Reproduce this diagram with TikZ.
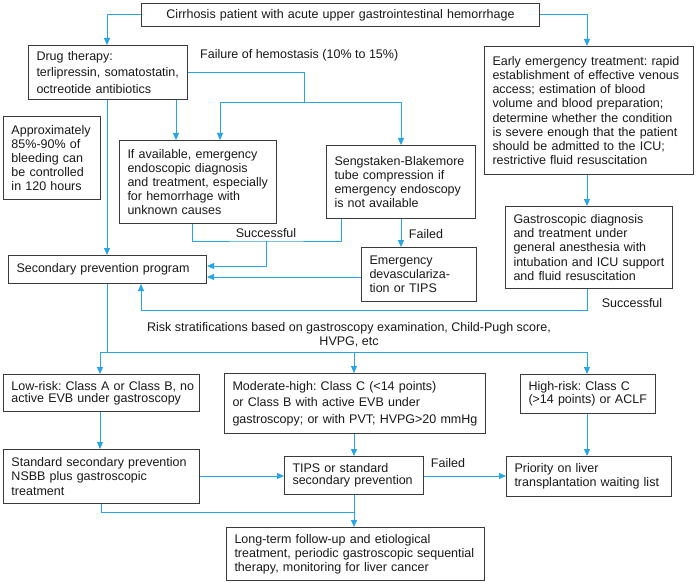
\documentclass[tikz,border=0pt]{standalone}
\usepackage{fontspec}
\setmainfont{Liberation Sans}
\frenchspacing
\usetikzlibrary{arrows.meta}
\definecolor{linkblue}{RGB}{38,166,230}
\definecolor{boxgray}{RGB}{58,58,58}
\tikzset{
  box/.style={draw=boxgray, line width=1pt, inner xsep=8pt, align=left, text=black!90, lsp=14.2,
    execute at begin node={\lineskiplimit=-20pt}},
  lsp/.style={font=\fontsize{12.5}{#1}\selectfont},
  conn/.style={draw=linkblue, line width=1pt},
  arr/.style={conn, -{Triangle[length=7pt,width=6pt]}},
  lbl/.style={inner sep=0pt, font=\fontsize{12.5}{14.2}\selectfont, text=black!90}
}
\newcommand{\lw}[1]{\mbox{#1}}
\newcommand{\mybox}[7][]{%
  \pgfmathsetmacro\bw{#5-#3}\pgfmathsetmacro\bh{#6-#4}\pgfmathsetmacro\tw{#5-#3-16}%
  \node[box,minimum width=\bw pt,minimum height=\bh pt,text width=\tw pt,anchor=north west,#1] (#2) at (#3,#4) {#7};}
\begin{document}
\begin{tikzpicture}[x=1pt,y=-1pt]
\useasboundingbox[fill=white] (0,0) rectangle (696,583);
% boxes
\mybox[align=center]{top}{141}{3}{539}{26}{\lw{Cirrhosis patient with acute upper gastrointestinal hemorrhage}}
\mybox[lsp=16.2]{drug}{28}{45}{187}{99}{\lw{Drug therapy:}\\\lw{terlipressin, somatostatin,}\\\lw{octreotide antibiotics}}
\mybox{early}{484}{46}{693}{174}{\lw{Early emergency treatment: rapid}\\\lw{establishment of effective venous}\\\lw{access; estimation of blood}\\\lw{volume and blood preparation;}\\\lw{determine whether the condition}\\\lw{is severe enough that the patient}\\\lw{should be admitted to the ICU;}\\\lw{restrictive fluid resuscitation}}
\mybox{approx}{3}{116}{100}{199}{\lw{Approximately}\\\lw{85\%-90\% of}\\\lw{bleeding can}\\\lw{be controlled}\\\lw{in 120 hours}}
\mybox{endo}{119}{140}{276}{223}{\lw{If available, emergency}\\\lw{endoscopic diagnosis}\\\lw{and treatment, especially}\\\lw{for hemorrhage with}\\\lw{unknown causes}}
\mybox{seng}{326}{145}{475}{218}{\lw{Sengstaken-Blakemore}\\\lw{tube compression if}\\\lw{emergency endoscopy}\\\lw{is not available}}
\mybox{sec}{8}{255}{206}{283}{\lw{Secondary prevention program}}
\mybox{emerg}{361}{247}{476}{301}{\lw{Emergency}\\\lw{devasculariza-}\\\lw{tion or TIPS}}
\mybox{gastro}{505}{206}{672}{288}{\lw{Gastroscopic diagnosis}\\\lw{and treatment under}\\\lw{general anesthesia with}\\\lw{intubation and ICU support}\\\lw{and fluid resuscitation}}
\mybox[lsp=11.8]{low}{3}{374}{199}{411}{\lw{Low-risk: Class A or Class B, no}\\\lw{active EVB under gastroscopy}}
\mybox[lsp=16.6]{mod}{224}{373}{485}{433}{\lw{Moderate-high: Class C (<14 points)}\\\lw{or Class B with active EVB under}\\\lw{gastroscopy; or with PVT; HVPG>20 mmHg}}
\mybox[lsp=13.4]{high}{520}{374}{655}{413}{\lw{High-risk: Class C}\\\lw{(>14 points) or ACLF}}
\mybox{std}{3}{449}{199}{503}{\lw{Standard secondary prevention}\\\lw{NSBB plus gastroscopic}\\\lw{treatment}}
\mybox[lsp=11.8]{tips}{284}{456}{423}{494}{\lw{TIPS or standard}\\\lw{secondary prevention}}
\mybox{prio}{506}{456}{671}{496}{\lw{Priority on liver}\\\lw{transplantation waiting list}}
\mybox{long}{226}{527}{484}{580}{\lw{Long-term follow-up and etiological}\\\lw{treatment, periodic gastroscopic sequential}\\\lw{therapy, monitoring for liver cancer}}
% labels
\node[lbl,anchor=west] (lfail) at (200,55) {Failure of hemostasis (10\% to 15\%)};
\node[lbl] (lsucc1) at (266,233) {Successful};
\node[lbl] (lfailed1) at (426,234) {Failed};
\node[lbl] (lsucc2) at (632,303) {Successful};
\node[lbl,align=center] (lrisk) at (349,335) {Risk stratifications based on gastroscopy examination, Child-Pugh score,\\HVPG, etc};
\node[lbl] (lfailed2) at (448,463) {Failed};
% junctions
\coordinate (j1) at (304,103);
\coordinate (j2) at (266,241);
\coordinate (j3) at (107,352);
\coordinate (j3l) at (100,352);
\coordinate (j3m) at (354,352);
\coordinate (j3r) at (587,352);
\coordinate (j4) at (354,512);
\coordinate (j5) at (587,310);
% connectors
\draw[arr] (top.west) -| (drug.north -| 107,0);
\draw[arr] (top.east) -| (early.north -| 587,0);
\draw[conn] (drug.east) -| (j1);
\draw[arr] (j1) -| (endo.north -| 220,0);
\draw[arr] (j1) -| (seng.north -| 401,0);
\draw[arr] (drug.south -| 176,0) -- (endo.north -| 176,0);
\draw[arr] (drug.south -| 107,0) -- (sec.north -| 107,0);
\draw[conn] (endo.south -| 192,0) |- (j2) -| (seng.south -| 341,0);
\draw[arr] (j2) |- (sec.east |- 0,266);
\draw[arr] (emerg.west |- 0,277) -- (sec.east |- 0,277);
\draw[arr] (seng.south -| 401,0) -- (emerg.north -| 401,0);
\draw[arr] (early.south -| 587,0) -- (gastro.north -| 587,0);
\draw[arr] (gastro.south -| 587,0) -- (j5) -| (sec.south -| 141,0);
\draw[conn] (sec.south -| 107,0) -- (j3);
\draw[conn] (j3l) -- (j3r);
\draw[arr] (j3l) -- (low.north -| j3l);
\draw[arr] (j3m) -- (mod.north -| j3m);
\draw[arr] (j3r) -- (high.north -| j3r);
\draw[arr] (low.south -| 100,0) -- (std.north -| 100,0);
\draw[arr] (std.east |- 0,476) -- (tips.west |- 0,476);
\draw[arr] (tips.east |- 0,476) -- (prio.west |- 0,476);
\draw[arr] (high.south -| 587,0) -- (prio.north -| 587,0);
\draw[arr] (mod.south -| 354,0) -- (tips.north -| 354,0);
\draw[conn] (std.south -| 101,0) |- (j4);
\draw[arr] (tips.south -| 354,0) -- (long.north -| 354,0);
\end{tikzpicture}
\end{document}
